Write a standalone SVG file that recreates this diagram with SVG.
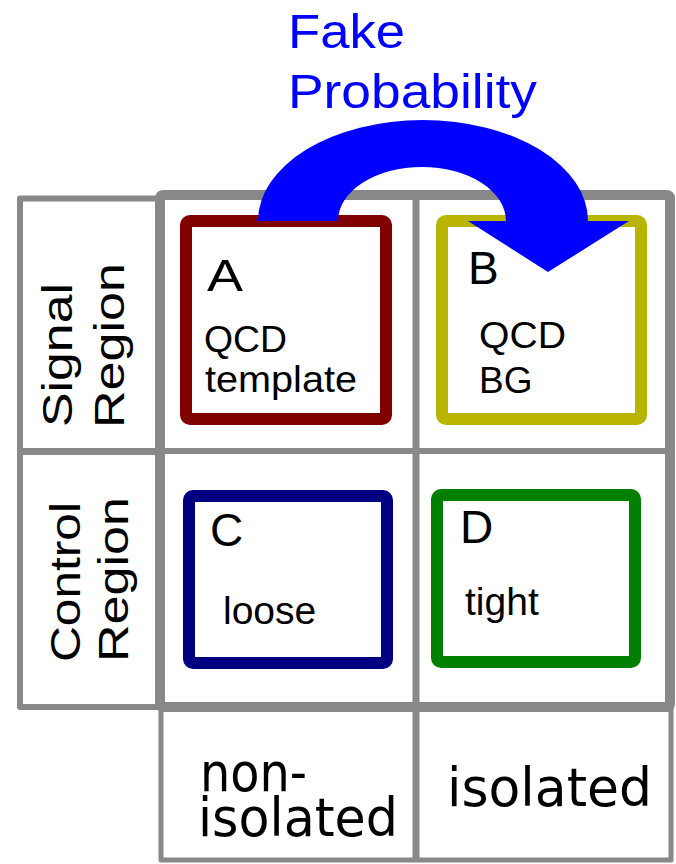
<svg xmlns="http://www.w3.org/2000/svg" width="676" height="864" viewBox="0 0 676 864">
<style>
.g{fill:none;stroke:#888;stroke-linejoin:round}
.box{fill:#fff;stroke-width:12;stroke-linejoin:round}
.t{font-family:"Liberation Sans",Arial,sans-serif;fill:#000}
.d{font-family:"DejaVu Sans","Liberation Sans",sans-serif;fill:#000}
.blue{font-family:"Liberation Sans",Arial,sans-serif;fill:#0000ff}
</style>
<rect width="676" height="864" fill="#fff"/>
<g id="grid">
  <rect class="g" x="20" y="198.5" width="140" height="508.5" stroke-width="6"/>
  <line class="g" x1="20" y1="451.5" x2="160" y2="451.5" stroke-width="7"/>
  <rect class="g" x="161" y="707" width="510" height="153" stroke-width="5"/>
  <line class="g" x1="416" y1="195" x2="416" y2="860" stroke-width="7"/>
  <line class="g" x1="160" y1="451" x2="670" y2="451" stroke-width="6"/>
  <rect class="g" x="160" y="195" width="510" height="512" rx="3" stroke-width="10"/>
</g>
<g id="label-signal">
  <text class="t" font-size="42" transform="translate(72,427) rotate(-90)" textLength="144" lengthAdjust="spacingAndGlyphs">Signal</text>
  <text class="t" font-size="42" transform="translate(124,428) rotate(-90)" textLength="165" lengthAdjust="spacingAndGlyphs">Region</text>
</g>
<g id="label-control">
  <text class="t" font-size="42" transform="translate(80,662) rotate(-90)" textLength="160" lengthAdjust="spacingAndGlyphs">Control</text>
  <text class="t" font-size="42" transform="translate(128,662) rotate(-90)" textLength="165" lengthAdjust="spacingAndGlyphs">Region</text>
</g>
<g id="label-nonisolated">
  <text class="d" font-size="54"><tspan x="200" y="791" textLength="107" lengthAdjust="spacingAndGlyphs">non-</tspan><tspan x="198" y="836" textLength="200" lengthAdjust="spacingAndGlyphs">isolated</tspan></text>
</g>
<g id="label-isolated">
  <text class="d" font-size="54" x="447" y="806" textLength="205" lengthAdjust="spacingAndGlyphs">isolated</text>
</g>
<g id="A">
  <rect class="box" x="186" y="221" width="200" height="198" rx="4" stroke="#800000"/>
  <text class="t" font-size="44" x="207" y="291" textLength="36" lengthAdjust="spacingAndGlyphs">A</text>
  <text class="t" font-size="36" x="204" y="352" textLength="83" lengthAdjust="spacingAndGlyphs">QCD</text>
  <text class="t" font-size="36" x="205" y="392" textLength="152" lengthAdjust="spacingAndGlyphs">template</text>
</g>
<g id="B">
  <rect class="box" x="442" y="221" width="199" height="198" rx="4" stroke="#b8b400"/>
  <text class="t" font-size="46" x="468" y="284">B</text>
  <text class="t" font-size="37" x="479" y="348" textLength="87" lengthAdjust="spacingAndGlyphs">QCD</text>
  <text class="t" font-size="37" x="479" y="393">BG</text>
</g>
<g id="C">
  <rect class="box" x="189" y="496" width="198" height="167" rx="4" stroke="#000080"/>
  <text class="t" font-size="46" x="210" y="546">C</text>
  <text class="t" font-size="39" x="223" y="624">loose</text>
</g>
<g id="D">
  <rect class="box" x="437" y="495" width="198" height="167" rx="4" stroke="#008000"/>
  <text class="t" font-size="46" x="460" y="543">D</text>
  <text class="t" font-size="39" x="465" y="615">tight</text>
</g>
<g id="connectors">
  <path d="M258 221 A165 101 0 0 1 588 221 L629 221 L548 272 L468 221 L506 221 A84 54 0 0 0 338 221 Z" fill="#0000ff"/>
</g>
<g id="title">
  <text class="blue" font-size="48" x="288" y="48" textLength="117" lengthAdjust="spacingAndGlyphs">Fake</text>
  <text class="blue" font-size="48" x="288" y="108" textLength="249" lengthAdjust="spacingAndGlyphs">Probability</text>
</g>
</svg>
